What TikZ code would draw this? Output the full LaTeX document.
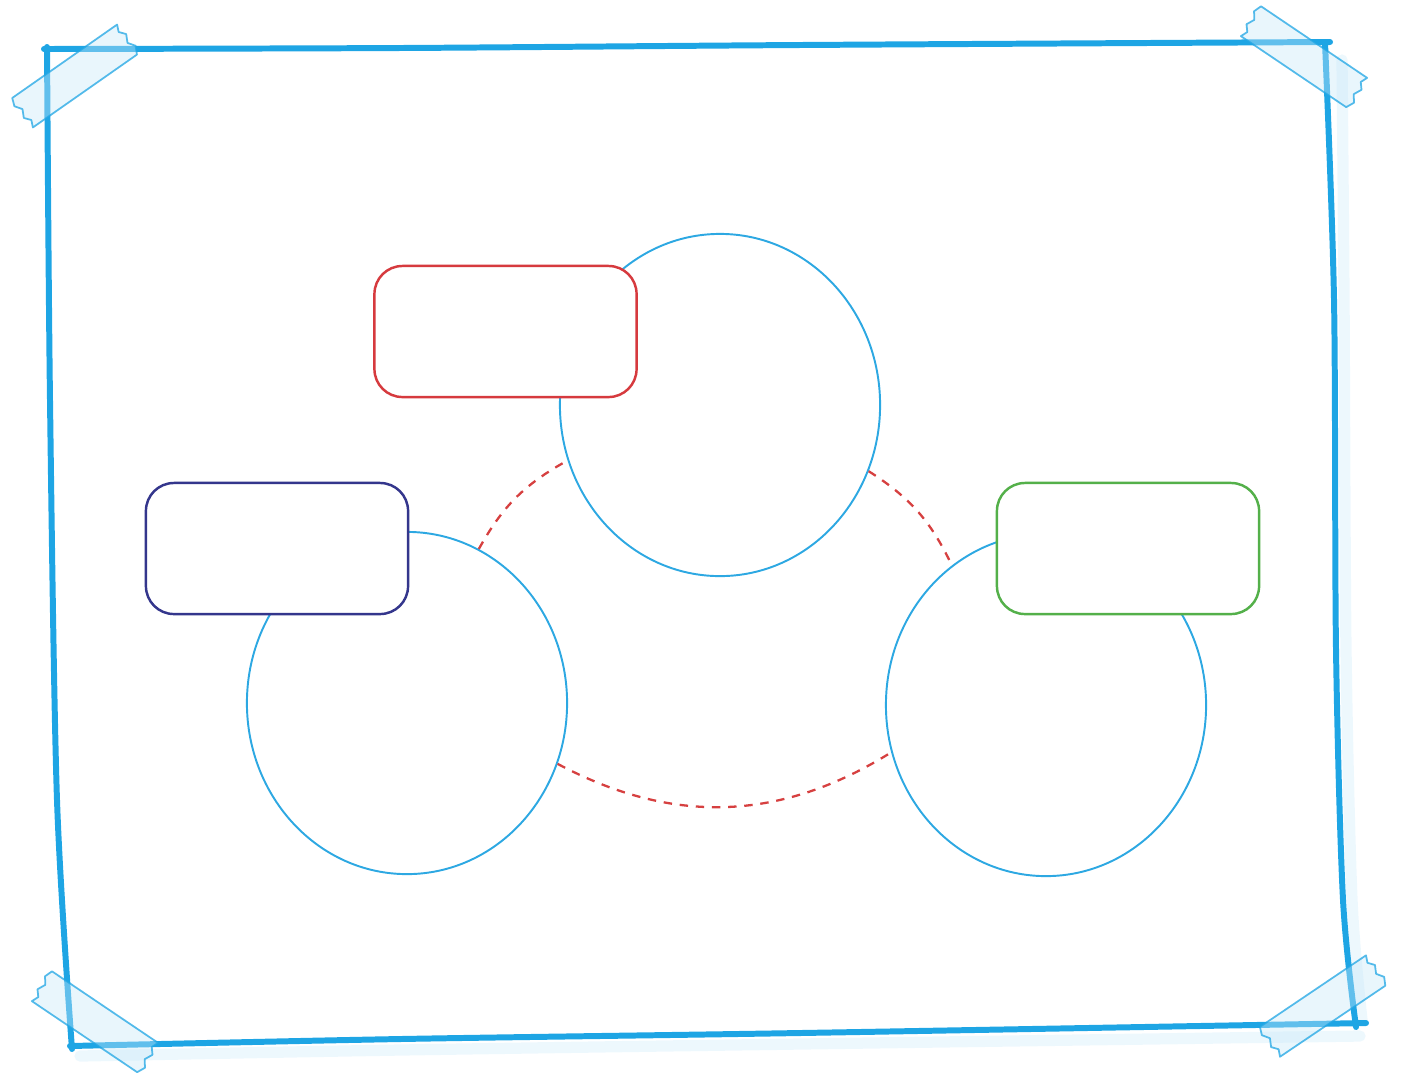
\documentclass[tikz,border=0pt]{standalone}
\usepackage{tikz}
\usetikzlibrary{shapes.geometric}

\definecolor{framecol}{RGB}{30,165,228}
\definecolor{circcol}{RGB}{45,168,226}
\definecolor{redcol}{RGB}{214,58,62}
\definecolor{navycol}{RGB}{52,54,140}
\definecolor{greencol}{RGB}{84,176,74}
\definecolor{dashcol}{RGB}{214,64,64}

\begin{document}
\begin{tikzpicture}[x=0.01cm, y=-0.01cm,
  frame/.style={draw=framecol, line width=1.7pt, line cap=round, line join=round},
  glow/.style={draw=framecol, line width=3.2pt, opacity=0.08, line cap=round},
  tape/.style={fill=framecol!25, fill opacity=0.4, draw=framecol, draw opacity=0.75, line width=0.5pt, line join=round},
  blob/.style={ellipse, draw=circcol, line width=0.55pt, minimum width=3.2cm, minimum height=3.42cm, inner sep=0pt},
  tag/.style={rectangle, rounded corners=0.28cm, fill=white, line width=0.7pt, minimum width=2.62cm, minimum height=1.31cm, inner sep=0pt},
  link/.style={draw=dashcol, line width=0.65pt, dash pattern=on 2.4pt off 2.2pt}]

\useasboundingbox (0,0) rectangle (1404,1075);

%\draw[step=100, gray!30] (0,0) grid (1404,1075);

% soft shadow of the frame
\draw[glow] plot[smooth] coordinates {(1342,60) (1344,300) (1346,650) (1352,900) (1362,1020)};
\draw[glow] plot[smooth] coordinates {(80,1056) (400,1050) (800,1044) (1360,1036)};

% the hand drawn frame
\draw[frame] plot[smooth] coordinates {(44,49) (400,48) (800,45) (1330,42)};
\draw[frame] plot[smooth] coordinates {(47,47) (50,400) (57,800) (72,1049)};
\draw[frame] plot[smooth] coordinates {(1325,43) (1334,300) (1336,650) (1343,900) (1356,1027)};
\draw[frame] plot[smooth] coordinates {(70,1046) (400,1039) (800,1033) (1366,1023)};

% tape on the corners
\foreach \cx/\cy/\ang in {75/76/35, 1304/57/-34, 95/1022/-34, 1323/1006/34}
{
\begin{scope}[shift={(\cx,\cy)}, rotate=\ang]
\path[tape] (-64,-18) -- (64,-18) -- (61,-11) -- (66,-5) -- (62,3) -- (67,10) -- (63,18)
  -- (-64,18) -- (-61,11) -- (-66,5) -- (-62,-3) -- (-67,-10) -- cycle;
\end{scope}
}

% circles
\node[blob] (circTop) at (720,405) {};
\node[blob] (circLeft) at (407,703) {};
\node[blob] (circRight) at (1046,705) {};

% dashed links
\draw[link] (circLeft.65) to[bend left=16] (circTop.200);
\draw[link] (circTop.336) to[bend left=16] (circRight.124);
\draw[link] (circLeft.338) to[bend right=30] (circRight.197);

% label boxes
\node[tag, draw=redcol] (boxTop) at (505.5,331.5) {};
\node[tag, draw=navycol] (boxLeft) at (277,548.5) {};
\node[tag, draw=greencol] (boxRight) at (1128,548.5) {};

\end{tikzpicture}
\end{document}
